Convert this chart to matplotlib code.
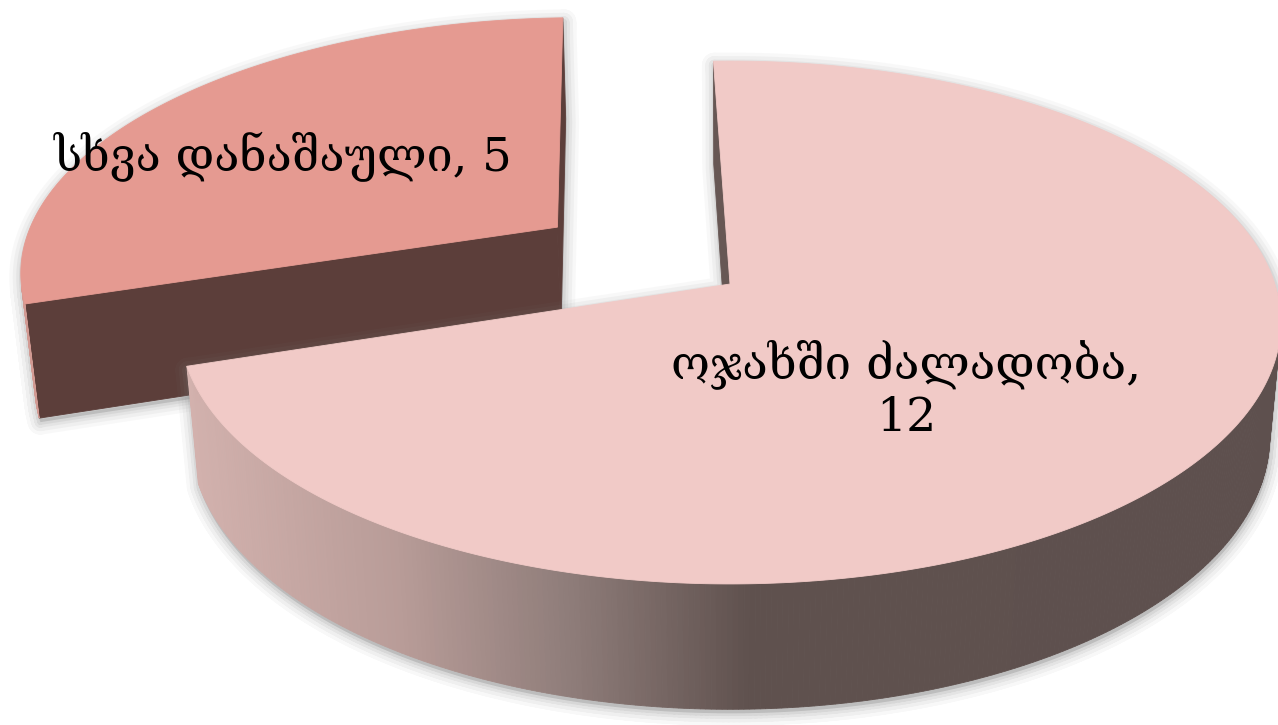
"""
Exploded 3D pie: two categories of cases, drawn as projected slices.
"""
import numpy as np
import matplotlib
matplotlib.use("Agg")
import matplotlib.pyplot as plt
from matplotlib.patches import Polygon, PathPatch
from matplotlib.path import Path
from matplotlib.colors import to_rgb


labels = ["ოჯახში ძალადობა", "სხვა დანაშაული"]
values = [12, 5]
explode = [0.0, 0.40]

TOP_COL = ["#F1CAC7", "#E59A91"]
CUT_COL = ["#675754", "#5C3E3A"]
RIM_SMALL = "#D29A93"
# side gradient of the big slice (screen x -> colour)
GRAD_X = [185, 400, 573, 750, 1278]
GRAD_C = ["#D4B2AE", "#B89C98", "#8E7C79", "#5F514E", "#5E504E"]

START = 92.0          # degrees, counter-clockwise from the right
ELEV = np.radians(30.0)
DIST = 6.0
HEIGHT = 0.24
SCALE = 3204
APEX = (730, 284)

c, s = np.cos(ELEV), np.sin(ELEV)
v0 = HEIGHT * c / (DIST - HEIGHT * s)
cam = np.array([0.0, -DIST * c, DIST * s])


def proj(X, Y, Z):
    X, Y, Z = np.broadcast_arrays(np.asarray(X, float), np.asarray(Y, float), np.asarray(Z, float))
    d = DIST + Y * c - Z * s
    u = X / d
    v = (Y * s + Z * c) / d
    return np.column_stack([APEX[0] + SCALE * u, APEX[1] - SCALE * (v - v0)])


def side_colour(px):
    rgb = [np.interp(px, GRAD_X, [to_rgb(col)[k] for col in GRAD_C]) for k in range(3)]
    return tuple(rgb)


def slice_faces(idx, a0, a1):
    """Return list of (polygon, colour) in drawing order for one slice."""
    mid = np.radians((a0 + a1) / 2)
    ox, oy = explode[idx] * np.cos(mid), explode[idx] * np.sin(mid)
    faces = []

    # cut faces at the two straight edges
    for ang, sign in ((a0, 1), (a1, -1)):
        t = np.radians(ang)
        n = np.array([sign * np.sin(t), -sign * np.cos(t), 0.0])
        if n @ (cam - np.array([ox, oy, 0.0])) > 0:
            xs = [ox, ox + np.cos(t), ox + np.cos(t), ox]
            ys = [oy, oy + np.sin(t), oy + np.sin(t), oy]
            zs = [0, 0, HEIGHT, HEIGHT]
            faces.append((proj(xs, ys, zs), CUT_COL[idx]))

    # curved rim, in small pieces
    th = np.radians(np.linspace(a0, a1, int(abs(a1 - a0) * 2) + 2))
    for t1, t2 in zip(th[:-1], th[1:]):
        tm = (t1 + t2) / 2
        X, Y = ox + np.cos(tm), oy + np.sin(tm)
        n = np.array([np.cos(tm), np.sin(tm), 0.0])
        if n @ (cam - np.array([X, Y, 0.0])) <= 0:
            continue
        xs = ox + np.cos([t1, t2, t2, t1])
        ys = oy + np.sin([t1, t2, t2, t1])
        zs = [0, 0, HEIGHT, HEIGHT]
        poly = proj(xs, ys, zs)
        col = side_colour(poly[:, 0].mean()) if idx == 0 else RIM_SMALL
        faces.append((poly, col))

    # top face
    xs = np.concatenate([[ox], ox + np.cos(th), [ox]])
    ys = np.concatenate([[oy], oy + np.sin(th), [oy]])
    faces.append((proj(xs, ys, np.full(len(xs), HEIGHT)), TOP_COL[idx]))
    return faces


fig = plt.figure(figsize=(12.78, 7.25), dpi=100)
ax = fig.add_axes([0, 0, 1, 1])
ax.set_xlim(0, 1278)
ax.set_ylim(725, 0)
ax.axis("off")

total = sum(values)
spans = [v / total * 360 for v in values]
# small slice first (it lies behind), starting at START going ccw
a_small = (START, START + spans[1])
a_big = (START + spans[1], START + 360)
order = [(1, a_small), (0, a_big)]

for idx, (a0, a1) in order:
    faces = slice_faces(idx, a0, a1)
    # soft shadow: one compound path per layer so strokes do not stack
    verts, codes = [], []
    for poly, _ in faces:
        p = poly + np.array([1, 4])
        verts.extend(p.tolist() + [p[0].tolist()])
        codes.extend([Path.MOVETO] + [Path.LINETO] * (len(p) - 1) + [Path.CLOSEPOLY])
    path = Path(verts, codes)
    for w, a in ((18, 0.05), (13, 0.07), (8, 0.09), (4, 0.12)):
        ax.add_patch(PathPatch(path, facecolor="#808080", edgecolor="#808080",
                               lw=w, alpha=a, joinstyle="round"))
    for poly, col in faces:
        ax.add_patch(Polygon(poly, closed=True, facecolor=col, edgecolor=col, lw=0.6))

font = ["DejaVu Serif", "DejaVu Sans"]
ax.text(283, 157, f"{labels[1]}, {values[1]}", fontsize=33.5, family=font,
        ha="center", va="center", color="black")
ax.text(906, 390, f"{labels[0]},\n{values[0]}", fontsize=34, family=font,
        ha="center", va="center", color="black", linespacing=1.2)

fig.savefig("out.png", dpi=100)
